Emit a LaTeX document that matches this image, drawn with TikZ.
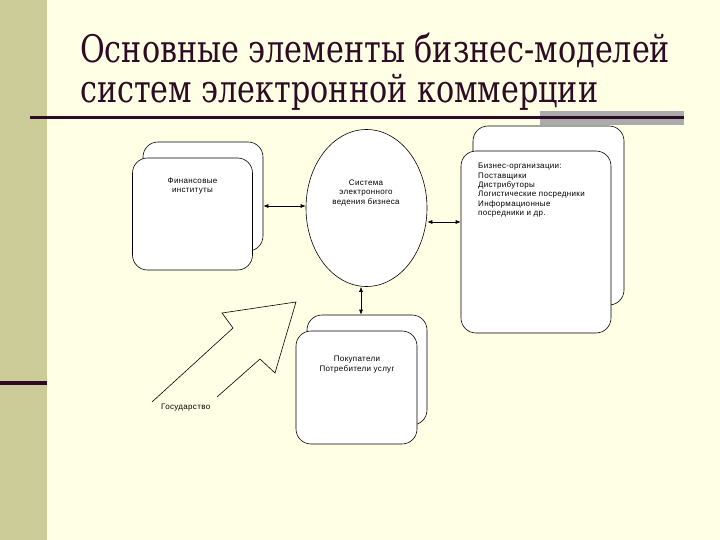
\documentclass[tikz,border=0pt]{standalone}
\usepackage{fontspec}
\setmainfont{DejaVu Serif}
\newfontfamily\titlefont{DejaVu Serif}
\newfontfamily\boxfont[LetterSpace=4]{Liberation Sans}
\usetikzlibrary{arrows.meta, positioning, shapes.geometric}
\definecolor{slide}  {HTML}{FFFFE5}
\definecolor{strip}  {HTML}{CCCC99}
\definecolor{ink}    {HTML}{2E0A24}
\definecolor{bar}    {HTML}{ABABAB}

\begin{document}
\begin{tikzpicture}[x=1pt, y=-1pt,
  % front and back cards share one outline; back cards sit up and to the right
  card/.style={draw, fill=white, rounded corners=15pt, line width=0.6pt, inner sep=0pt},
  txt/.style={font=\boxfont\fontsize{8}{9.4}\selectfont, align=center, inner sep=0pt},
  head/.style={font=\titlefont\fontsize{38}{38}\selectfont, text=ink, anchor=base west, inner sep=0pt},
  link/.style={{Latex[length=5pt,width=4pt]}-{Latex[length=5pt,width=4pt]}, line width=0.6pt}
]
\useasboundingbox (0,0) rectangle (720,540);
\fill[slide] (0,0) rectangle (720,540);
\fill[strip] (0,0) rectangle (47,540);
\fill[ink] (0,381) rectangle (47,385);

% title, two lines squeezed to the slide width
\node[head] (title1) at (80,63)  {\scalebox{0.795}[1]{Основные элементы бизнес-моделей}};
\node[head] (title2) at (80,103) {\scalebox{0.795}[1]{систем электронной коммерции}};
\fill[bar] (540,111) rectangle (684,125);
\draw[ink, line width=2.4pt] (30,117.5) -- (684,117.5);

% cards
\node[card, minimum width=120pt, minimum height=109pt] (finback) at (203,196.5) {};
\node[card, minimum width=120pt, minimum height=112pt] (fin)     at (192.5,214) {};
\node[draw, fill=white, ellipse, line width=0.6pt, minimum width=121pt, minimum height=157pt] (sys) at (366.5,208) {};
\node[card, minimum width=151pt, minimum height=179pt] (bizback) at (548.5,215.5) {};
\node[card, minimum width=150pt, minimum height=182pt] (biz)     at (536,242) {};
\node[card, minimum width=120pt, minimum height=110pt] (buyback) at (367,370) {};
\node[card, minimum width=121pt, minimum height=113pt] (buy)     at (356.5,387.5) {};

\node[txt, below=20pt of fin.north] (fintxt) {Финансовые\\институты};
\node[txt] (systxt) at (366,193) {Система\\электронного\\ведения бизнеса};
\node[txt, align=left, anchor=north west] (biztxt) at (478,163)
  {Бизнес-организации:\\Поставщики\\Дистрибуторы\\Логистические посредники\\Информационные\\посредники и др.};
\node[txt] (buytxt) at (357,364.5) {Покупатели\\Потребители услуг};
\node[txt, anchor=west] (state) at (161,408) {Государство};

% links
\draw[link] (finback.east |- 0,206) -- (sys.west |- 0,206);
\draw[link] (sys.east |- 0,222) -- (biz.west |- 0,222);
\draw[link] (sys.south -| 361,0) -- (buyback.north -| 361,0);

% big hollow arrow pointing at the centre
\draw[line width=0.6pt] (152,402) -- (233,328) -- (222,313) -- (296,302) -- (275,373) -- (260,359) -- (217,397);

\end{tikzpicture}
\end{document}
